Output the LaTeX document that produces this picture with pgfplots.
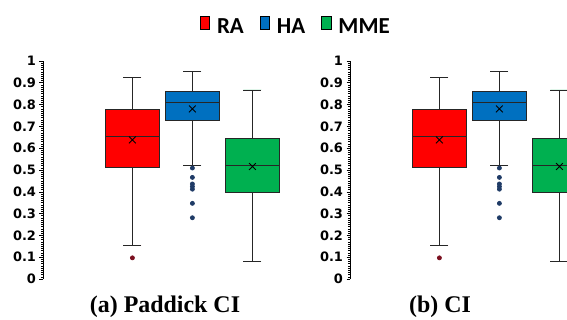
\documentclass[border=0pt]{standalone}
\usepackage{fontspec}
\usepackage{pgfplots}
\pgfplotsset{compat=1.18}
\usepgfplotslibrary{statistics}
\setmainfont{Liberation Serif}
\newfontfamily\legfont{Carlito}
\newfontfamily\tickfont{DejaVu Sans}
\definecolor{cRA}{HTML}{FF0000}
\definecolor{cHA}{HTML}{0070C0}
\definecolor{cMME}{HTML}{00B050}
\definecolor{oRA}{HTML}{7B1020}
\definecolor{oHA}{HTML}{1F3B66}
\pgfplotsset{
  panel/.style={
    scale only axis, width=245.4bp, height=218bp, anchor=south west,
    xmin=-0.49, xmax=3.6, ymin=0, ymax=1,
    axis x line=none, axis y line*=left,
    axis line style={black, line width=0.9pt},
    ytick={0,0.1,0.2,0.3,0.4,0.5,0.6,0.7,0.8,0.9,1},
    minor y tick num=9,
    tick align=outside,
    major tick length=3.5bp, minor tick length=2.2bp,
    every tick/.style={black, line width=0.6pt},
    /pgf/number format/assume math mode=true,
    yticklabel style={font=\tickfont\bfseries\fontsize{13}{15}\selectfont, xshift=0bp},
    boxplot/draw direction=y,
    clip=false,
  },
  bx/.style={draw=black!85, line width=0.8pt, mark=*, mark size=2bp},
}
\newcommand{\boxes}{%
  \addplot[bx, fill=cRA, mark options={fill=oRA, draw=oRA}, forget plot,
    boxplot prepared={draw position=1, lower whisker=0.153, lower quartile=0.513,
      median=0.653, upper quartile=0.779, upper whisker=0.924,
      box extend=0.9, whisker extend=0.3}]
    table[row sep=\\, y index=0] {0.097\\};
  \addplot[bx, fill=cHA, mark options={fill=oHA, draw=oHA}, forget plot,
    boxplot prepared={draw position=2, lower whisker=0.519, lower quartile=0.727,
      median=0.811, upper quartile=0.861, upper whisker=0.954,
      box extend=0.9, whisker extend=0.3}]
    table[row sep=\\, y index=0] {0.509\\ 0.466\\ 0.436\\ 0.424\\ 0.412\\ 0.347\\ 0.281\\};
  \addplot[bx, fill=cMME, forget plot,
    boxplot prepared={draw position=3, lower whisker=0.079, lower quartile=0.398,
      median=0.519, upper quartile=0.646, upper whisker=0.867,
      box extend=0.9, whisker extend=0.3}]
    coordinates {};
  \addplot[only marks, mark=x, mark size=4.8bp, black, line width=0.9pt, forget plot]
    coordinates {(1,0.638) (2,0.780) (3,0.516)};
}
\begin{document}
\begin{tikzpicture}
\useasboundingbox (0,0) rectangle (567bp,320bp);
\clip (0,0) rectangle (567bp,320bp);
\begin{axis}[panel, at={(43bp,41bp)},
  legend image code/.code={\draw[#1, draw=black, line width=0.7pt] (0bp,-3bp) rectangle (9.5bp,10bp);},
  legend style={at={(axis description cs:1.03,1.159)}, anchor=center, draw=none, fill=none,
    legend columns=3, font=\legfont\bfseries\fontsize{23}{26}\selectfont,
    /tikz/every odd column/.append style={column sep=5bp},
    /tikz/every even column/.append style={column sep=14bp},
    inner sep=0pt},
]
\addlegendimage{fill=cRA}
\addlegendimage{fill=cHA}
\addlegendimage{fill=cMME}
\boxes
\legend{RA,HA,MME}
\end{axis}
\begin{axis}[panel, at={(350bp,41bp)}]
\boxes
\end{axis}
\node[anchor=base, font=\bfseries\fontsize{24}{28}\selectfont] at (165bp,7.5bp) {(a) Paddick CI};
\node[anchor=base, font=\bfseries\fontsize{24}{28}\selectfont] at (440bp,7.5bp) {(b) CI};
\end{tikzpicture}
\end{document}
